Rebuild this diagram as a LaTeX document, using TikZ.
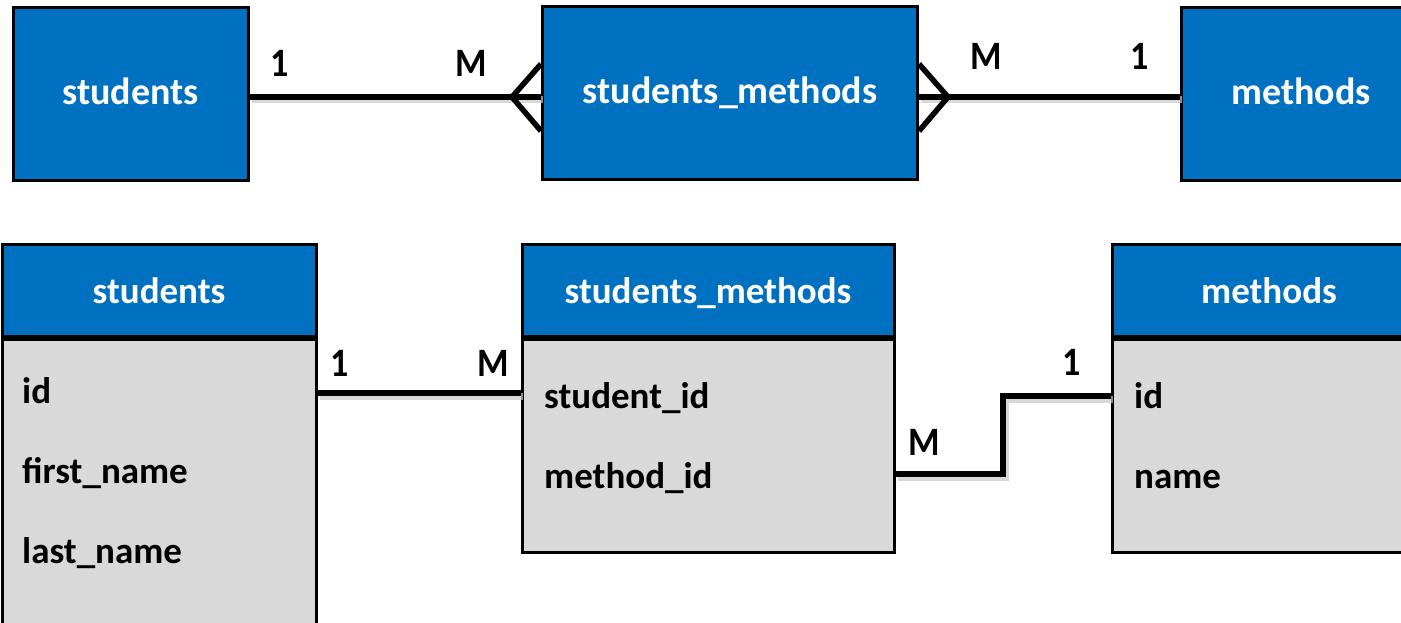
\documentclass[tikz,border=0pt]{standalone}
\usepackage{fontspec}
\usepackage{graphicx}
\setmainfont{Carlito}
\usetikzlibrary{calc}
\definecolor{ermblue}{HTML}{0070C0}
\definecolor{rowgray}{HTML}{D9D9D9}
\newcommand{\tallt}[1]{\scalebox{1}[1.12]{#1}}
\begin{document}
\begin{tikzpicture}[x=1pt,y=-1pt,
  entity/.style={draw=black, line width=3pt, fill=ermblue, text=white,
    font=\bfseries\fontsize{38}{40}\selectfont, inner sep=0pt,
    text height=21pt, text depth=0pt},
  thead/.style={draw=black, line width=3pt, fill=ermblue, text=white,
    font=\bfseries\fontsize{37}{40}\selectfont, inner sep=0pt,
    text height=26pt, text depth=0pt},
  tbody/.style={draw=black, line width=3pt, fill=rowgray, inner sep=0pt},
  field/.style={anchor=base west, inner sep=0pt, font=\bfseries\fontsize{37}{40}\selectfont},
  card/.style={anchor=base, inner sep=0pt, font=\bfseries\fontsize{36}{40}\selectfont},
  link/.style={line width=6pt, black,
    preaction={draw, line width=7pt, black!22, opacity=0.7,
      transform canvas={shift={(2pt,-3pt)}}}},
  prong/.style={line width=5.5pt, black}]
\useasboundingbox (0,0) rectangle (1401,623);

% ---- conceptual model ----
\node[entity, minimum width=235pt, minimum height=173pt] (es) at (130.5,94.5) {students};
\node[entity, minimum width=375pt, minimum height=173pt] (esm) at (730,93.5) {students\_methods};
\node[entity, minimum width=240pt, minimum height=173pt] (em) at (1301,94.5) {methods};

\draw[link] (es.east |- 0,97) -- (esm.west |- 0,97);
\draw[link] (esm.east |- 0,97) -- (em.west |- 0,97);
% crow's feet on the many side
\coordinate (cfl) at (512,97);
\coordinate (cfr) at (948,97);
\draw[prong] (esm.west |- 0,64) -- (cfl) -- (esm.west |- 0,131);
\draw[prong] (esm.east |- 0,64) -- (cfr) -- (esm.east |- 0,131);

\node[card] (c1) at (280,77) {\tallt{1}};
\node[card] (c2) at (471,77) {\tallt{M}};
\node[card] (c3) at (986,70) {\tallt{M}};
\node[card] (c4) at (1140,70) {\tallt{1}};

% ---- tables ----
\node[thead, minimum width=314pt, minimum height=92pt] (ts) at (159,290) {students};
\node[tbody, minimum width=314pt, minimum height=320pt, anchor=north] (tsb) at (ts.south) {};
\node[field] (ts1) at (22,403) {id};
\node[field] (ts2) at (22,483) {first\_name};
\node[field] (ts3) at (22,563) {last\_name};

\node[thead, minimum width=372pt, minimum height=92pt] (tsm) at (708,290) {students\_methods};
\node[tbody, minimum width=372pt, minimum height=213pt, anchor=north] (tsmb) at (tsm.south) {};
\node[field] (tsm1) at (544,408) {student\_id};
\node[field] (tsm2) at (544,488) {method\_id};

\node[thead, minimum width=314pt, minimum height=92pt] (tm) at (1269,290) {methods};
\node[tbody, minimum width=314pt, minimum height=213pt, anchor=north] (tmb) at (tm.south) {};
\node[field] (tm1) at (1134,408) {id};
\node[field] (tm2) at (1134,488) {name};

% relationships between the tables
\draw[link] (tsb.east |- 0,393) -- (tsmb.west |- 0,393);
\draw[link] (tsmb.east |- 0,474) -- (1003,474) |- (tmb.west |- 0,396);

\node[card] (k1) at (340,376) {\tallt{1}};
\node[card] (k2) at (493,376) {\tallt{M}};
\node[card] (k3) at (924,455) {\tallt{M}};
\node[card] (k4) at (1072,375) {\tallt{1}};
\end{tikzpicture}
\end{document}
